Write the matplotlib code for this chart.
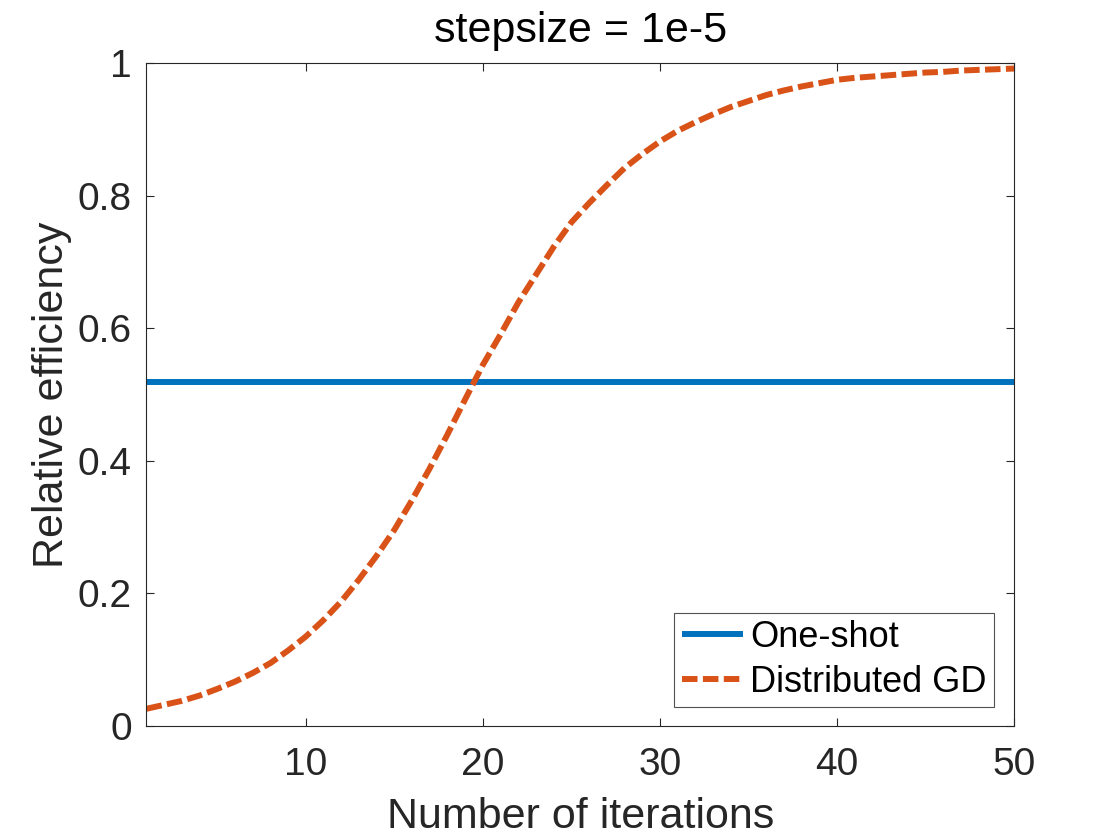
import numpy as np
import matplotlib
matplotlib.use("Agg")
import matplotlib.pyplot as plt

plt.rcParams["font.family"] = ["Liberation Sans", "DejaVu Sans"]

# values (one point per iteration)
iters = list(range(1, 51))
dist_gd = [0.026, 0.032, 0.038, 0.046, 0.056, 0.067, 0.080, 0.095, 0.114, 0.135,
           0.160, 0.188, 0.221, 0.257, 0.296, 0.341, 0.389, 0.440, 0.493, 0.545,
           0.591, 0.639, 0.681, 0.723, 0.760, 0.789, 0.816, 0.842, 0.863, 0.882,
           0.898, 0.911, 0.923, 0.934, 0.943, 0.952, 0.959, 0.965, 0.970, 0.975,
           0.978, 0.980, 0.982, 0.984, 0.986, 0.987, 0.989, 0.990, 0.991, 0.992]
one_shot = 0.519

xticks = [10, 20, 30, 40, 50]
yticks = [0, 0.2, 0.4, 0.6, 0.8, 1]
ytick_labels = ["0", "0.2", "0.4", "0.6", "0.8", "1"]

BLUE = "#0072BD"
ORANGE = "#D95319"
GRAY = "#262626"

fig = plt.figure(figsize=(11.2, 8.4), dpi=100)
ax = fig.add_axes([0.1308, 0.1357, 0.7746, 0.789])

ax.plot([iters[0], iters[-1]], [one_shot, one_shot], color=BLUE, lw=4.3,
        solid_capstyle="butt", label="One-shot")
ax.plot(iters, dist_gd, color=ORANGE, lw=4.3, linestyle=(0, (2.6, 0.9)),
        dash_capstyle="butt", label="Distributed GD")

ax.set_xlim(1, 50)
ax.set_ylim(0, 1)
ax.set_xticks(xticks)
ax.set_yticks(yticks)
ax.set_yticklabels(ytick_labels)

for s in ax.spines.values():
    s.set_color(GRAY)
    s.set_linewidth(0.8)
ax.tick_params(direction="in", length=5.8, width=0.8, color=GRAY,
               labelcolor=GRAY, labelsize=28, top=True, right=True)
ax.tick_params(axis="x", pad=15)
ax.tick_params(axis="y", pad=10.5)

ax.set_xlabel("Number of iterations", fontsize=31, color=GRAY)
ax.set_ylabel("Relative efficiency", fontsize=31, color=GRAY)
ax.xaxis.set_label_coords(0.5, -0.107)
ax.yaxis.set_label_coords(-0.086, 0.5)
ax.set_title("stepsize = 1e-5", fontsize=31, color="black", pad=15)

leg = ax.legend(loc="lower right", bbox_to_anchor=(0.9769, 0.029),
                borderaxespad=0, fontsize=26, frameon=True, fancybox=False,
                borderpad=0.2, labelspacing=0.27, handlelength=1.7,
                handletextpad=0.2)
leg.get_frame().set_edgecolor(GRAY)
leg.get_frame().set_linewidth(0.8)

fig.savefig("out.png", dpi=100)
